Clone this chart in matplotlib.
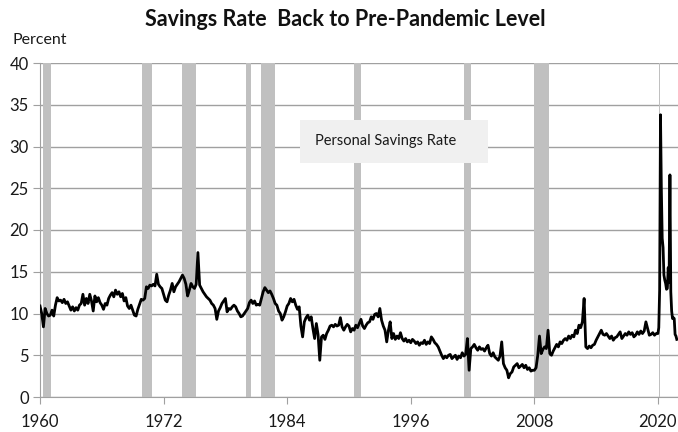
import matplotlib
matplotlib.use("Agg")
import matplotlib.pyplot as plt
from matplotlib.patches import Rectangle

plt.rcParams['font.family'] = ['Lato', 'DejaVu Sans']

# bi-monthly readings (Jan, Mar, May, Jul, Sep, Nov), 1960-2019
rate_1960_2019 = [
    [10.9, 10.0, 8.4, 10.6, 10.0, 9.7],     # 1960
    [9.8, 10.4, 9.7, 11.0, 11.9, 11.5],     # 1961
    [11.6, 11.3, 11.7, 11.2, 11.4, 10.9],   # 1962
    [10.4, 10.8, 10.3, 10.7, 10.4, 11.0],   # 1963
    [11.2, 12.3, 11.0, 11.8, 11.2, 12.3],   # 1964
    [11.5, 10.3, 12.1, 11.4, 11.9, 11.3],   # 1965
    [11.0, 10.5, 11.2, 11.0, 11.8, 12.2],   # 1966
    [12.5, 12.0, 12.8, 12.3, 12.6, 12.0],   # 1967
    [12.4, 11.5, 11.9, 10.9, 10.6, 11.0],   # 1968
    [10.4, 9.8, 9.7, 10.5, 11.1, 11.7],     # 1969
    [11.6, 11.8, 13.2, 13.0, 13.4, 13.3],   # 1970
    [13.5, 13.3, 14.7, 13.5, 13.2, 13.0],   # 1971
    [12.3, 11.6, 11.4, 12.2, 12.8, 13.6],   # 1972
    [12.6, 13.2, 13.5, 13.8, 14.2, 14.6],   # 1973
    [14.2, 13.5, 12.1, 12.8, 13.6, 13.2],   # 1974
    [13.0, 13.5, 17.3, 13.4, 13.0, 12.6],   # 1975
    [12.3, 12.0, 11.8, 11.6, 11.2, 11.0],   # 1976
    [10.6, 9.3, 10.3, 10.7, 11.2, 11.5],    # 1977
    [11.8, 10.2, 10.6, 10.5, 10.8, 11.0],   # 1978
    [10.8, 10.3, 10.0, 9.6, 9.7, 10.0],     # 1979
    [10.3, 10.6, 11.3, 11.6, 11.2, 11.5],   # 1980
    [11.0, 11.1, 11.0, 11.8, 12.6, 13.1],   # 1981
    [12.8, 12.5, 12.7, 12.3, 11.8, 11.2],   # 1982
    [11.0, 10.3, 10.0, 9.2, 9.6, 10.2],     # 1983
    [10.9, 11.2, 11.8, 11.4, 11.7, 11.0],   # 1984
    [10.5, 10.8, 8.5, 7.2, 9.0, 9.5],       # 1985
    [9.8, 9.2, 9.6, 8.2, 7.0, 8.8],         # 1986
    [7.5, 4.4, 7.2, 7.4, 6.9, 7.6],         # 1987
    [8.0, 8.5, 8.6, 8.4, 8.7, 8.5],         # 1988
    [8.6, 9.5, 8.4, 8.0, 8.4, 8.7],         # 1989
    [8.5, 7.8, 8.2, 8.0, 8.6, 8.3],         # 1990
    [8.8, 9.3, 8.5, 8.2, 8.6, 8.9],         # 1991
    [9.0, 9.6, 9.3, 9.9, 10.0, 9.6],        # 1992
    [10.6, 9.2, 8.5, 8.0, 6.6, 8.0],        # 1993
    [9.0, 7.0, 7.6, 6.9, 7.3, 7.0],         # 1994
    [7.7, 7.0, 6.7, 7.0, 6.6, 6.8],         # 1995
    [6.5, 6.9, 6.7, 6.4, 6.6, 6.2],         # 1996
    [6.5, 6.4, 6.8, 6.3, 6.6, 6.4],         # 1997
    [7.2, 6.9, 6.5, 6.3, 6.0, 5.5],         # 1998
    [5.0, 4.6, 4.9, 4.7, 5.0, 5.1],         # 1999
    [4.6, 4.8, 5.0, 4.5, 4.9, 4.7],         # 2000
    [5.3, 4.9, 5.1, 7.0, 3.2, 5.8],         # 2001
    [6.0, 6.3, 5.9, 5.6, 6.0, 5.7],         # 2002
    [5.8, 5.5, 5.9, 6.2, 5.2, 4.9],         # 2003
    [5.3, 4.8, 4.6, 4.4, 4.9, 6.6],         # 2004
    [4.0, 3.5, 3.2, 2.3, 2.8, 3.0],         # 2005
    [3.6, 3.8, 4.0, 3.5, 3.7, 3.9],         # 2006
    [3.5, 3.8, 3.3, 3.5, 3.1, 3.2],         # 2007
    [3.2, 3.5, 5.0, 7.3, 5.2, 5.7],         # 2008
    [6.0, 5.8, 8.0, 5.2, 5.0, 5.5],         # 2009
    [5.9, 6.3, 6.0, 6.6, 6.4, 6.8],         # 2010
    [7.0, 6.8, 7.3, 7.0, 7.4, 7.2],         # 2011
    [8.0, 7.6, 8.6, 8.3, 9.0, 11.8],        # 2012
    [6.0, 5.8, 6.1, 5.9, 6.2, 6.3],         # 2013
    [6.8, 7.2, 7.6, 8.0, 7.5, 7.4],         # 2014
    [7.6, 7.3, 7.0, 7.3, 6.8, 7.1],         # 2015
    [7.2, 7.5, 7.8, 7.0, 7.3, 7.6],         # 2016
    [7.4, 7.8, 7.5, 7.7, 7.2, 7.4],         # 2017
    [7.8, 7.5, 7.9, 7.6, 7.9, 9.0],         # 2018
    [8.2, 7.4, 7.5, 7.7, 7.4, 7.6],         # 2019
]

# monthly readings, Jan 2020 - Nov 2021
rate_2020_2021 = [7.6, 8.3, 12.8, 33.8, 24.9, 19.0, 17.9, 14.6, 14.0, 13.6, 12.9, 13.0,
                  15.5, 13.7, 26.6, 12.6, 10.3, 9.4, 9.5, 9.4, 7.5, 7.3, 6.9]

# recessions (start, end) in decimal years
rec_start = [1960.25, 1969.92, 1973.83, 1980.0, 1981.5, 1990.5, 2001.17, 2007.92, 2020.08]
rec_end = [1961.08, 1970.83, 1975.17, 1980.5, 1982.83, 1991.17, 2001.83, 2009.42, 2020.25]

year_ticks = [1960, 1972, 1984, 1996, 2008, 2020]

# time axis
t = []
v = []
for i, row in enumerate(rate_1960_2019):
    for k, val in enumerate(row):
        t.append(1960 + i + k / 6.0)
        v.append(val)
for k, val in enumerate(rate_2020_2021):
    t.append(2020 + k / 12.0)
    v.append(val)

fig = plt.figure(figsize=(6.78, 4.32), dpi=100)
ax = fig.add_axes([40 / 678, 35 / 432, 1 - 40 / 678, 334 / 432])

for s, e in zip(rec_start, rec_end):
    ax.axvspan(s, e, color='#c0c0c0', lw=0, zorder=1)

ax.plot(t, v, color='black', lw=2.0, zorder=3)

ax.set_xlim(1960, 2021.95)
ax.set_ylim(0, 40)
ax.set_yticks(range(0, 41, 5))
ax.set_xticks(year_ticks)
ax.yaxis.grid(True, color='#a0a0a0', lw=1.0, zorder=0)
ax.set_axisbelow(True)
for side in ['top', 'right']:
    ax.spines[side].set_visible(False)
ax.spines['left'].set_color('#a0a0a0')
ax.spines['bottom'].set_color('#a0a0a0')
ax.tick_params(axis='both', colors='#a0a0a0', labelcolor='#1a1a1a', labelsize=12, length=5)
ax.tick_params(axis='x', pad=7)
ax.tick_params(axis='y', pad=3)

fig.text(0.51, 1 - 20 / 432, 'Savings Rate  Back to Pre-Pandemic Level', ha='center', va='center',
         fontsize=15.5, fontweight='bold', color='#111111')
fig.text(13 / 678, 1 - 40 / 432, 'Percent', ha='left', va='center', fontsize=11.5, color='#1a1a1a')

# label box
ax.add_patch(Rectangle((300 / 678, 1 - 163 / 432), 188 / 678, 43 / 432,
                       transform=fig.transFigure, fc='#f0f0f0', ec='none', zorder=4))
ax.text(386 / 678, 1 - 141 / 432, 'Personal Savings Rate', transform=fig.transFigure,
        ha='center', va='center', fontsize=10.5, color='#1a1a1a', zorder=5)

fig.savefig('out.png', dpi=100)
